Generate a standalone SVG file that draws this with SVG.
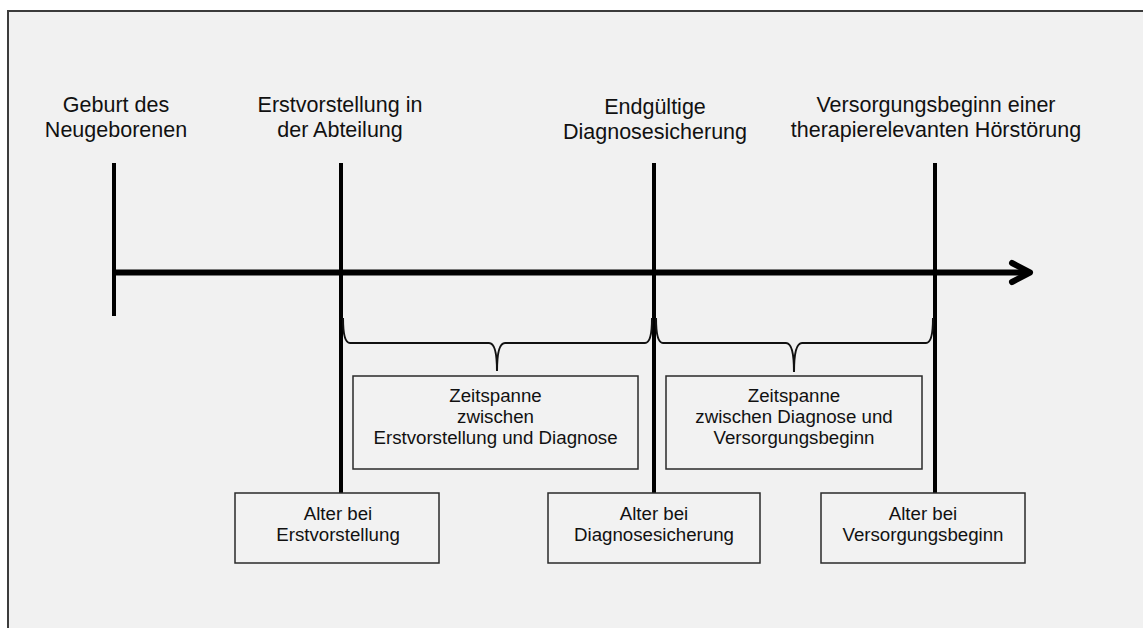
<svg xmlns="http://www.w3.org/2000/svg" width="1143" height="628" viewBox="0 0 1143 628">
  <style>
    .hdr { font-family: "Liberation Sans", Arial, sans-serif; font-size: 21.5px; fill: #111; text-anchor: middle; }
    .bx { font-family: "Liberation Sans", Arial, sans-serif; font-size: 18.7px; fill: #111; text-anchor: middle; }
    .box { fill: #f2f2f2; stroke: #2a2a2a; stroke-width: 1.5; }
    .tick { stroke: #000; stroke-width: 4; fill: none; }
    .brace { stroke: #111; stroke-width: 2; fill: none; }
  </style>
  <rect x="0" y="0" width="1143" height="628" fill="#ffffff"/>
  <rect x="8" y="11" width="1140" height="620" fill="#f1f1f1"/>
  <path d="M8,628 L8,11 L1143,11" fill="none" stroke="#3c3c3c" stroke-width="2"/>

  <g id="connectors">
    <line x1="114" y1="272.5" x2="1026" y2="272.5" stroke="#000" stroke-width="6"/>
    <polyline points="1012,263 1030,272.5 1012,282" fill="none" stroke="#000" stroke-width="6" stroke-linecap="round" stroke-linejoin="round"/>
    <line class="tick" x1="114" y1="163" x2="114" y2="316"/>
    <line class="tick" x1="341" y1="163" x2="341" y2="493"/>
    <line class="tick" x1="654" y1="163" x2="654" y2="493"/>
    <line class="tick" x1="935" y1="163" x2="935" y2="493"/>
    <path class="brace" d="M343,318 Q343,343 350,343 L489,343 Q497,343 497,371 Q497,343 505,343 L645,343 Q652,343 652,318"/>
    <path class="brace" d="M656,318 Q656,343 663,343 L786,343 Q794,343 794,372 Q794,343 802,343 L926,343 Q933,343 933,318"/>
  </g>

  <g id="label-geburt">
    <text class="hdr" x="116" y="112">Geburt des</text>
    <text class="hdr" x="116" y="137">Neugeborenen</text>
  </g>
  <g id="label-erstvorstellung">
    <text class="hdr" x="340" y="112">Erstvorstellung in</text>
    <text class="hdr" x="340" y="137">der Abteilung</text>
  </g>
  <g id="label-diagnose">
    <text class="hdr" x="655" y="114">Endgültige</text>
    <text class="hdr" x="655" y="139">Diagnosesicherung</text>
  </g>
  <g id="label-versorgung">
    <text class="hdr" x="936" y="112">Versorgungsbeginn einer</text>
    <text class="hdr" x="936" y="137">therapierelevanten Hörstörung</text>
  </g>

  <g id="box-zeitspanne-1">
    <rect class="box" x="353" y="376" width="285" height="93"/>
    <text class="bx" x="495.5" y="402">Zeitspanne</text>
    <text class="bx" x="495.5" y="423">zwischen</text>
    <text class="bx" x="495.5" y="444">Erstvorstellung und Diagnose</text>
  </g>
  <g id="box-zeitspanne-2">
    <rect class="box" x="666" y="376" width="256" height="93"/>
    <text class="bx" x="794" y="402">Zeitspanne</text>
    <text class="bx" x="794" y="423">zwischen Diagnose und</text>
    <text class="bx" x="794" y="444">Versorgungsbeginn</text>
  </g>
  <g id="box-alter-1">
    <rect class="box" x="235" y="493" width="204" height="70"/>
    <text class="bx" x="338" y="520">Alter bei</text>
    <text class="bx" x="338" y="541">Erstvorstellung</text>
  </g>
  <g id="box-alter-2">
    <rect class="box" x="548" y="493" width="212" height="70"/>
    <text class="bx" x="654" y="520">Alter bei</text>
    <text class="bx" x="654" y="541">Diagnosesicherung</text>
  </g>
  <g id="box-alter-3">
    <rect class="box" x="821" y="493" width="204" height="70"/>
    <text class="bx" x="923" y="520">Alter bei</text>
    <text class="bx" x="923" y="541">Versorgungsbeginn</text>
  </g>
</svg>
